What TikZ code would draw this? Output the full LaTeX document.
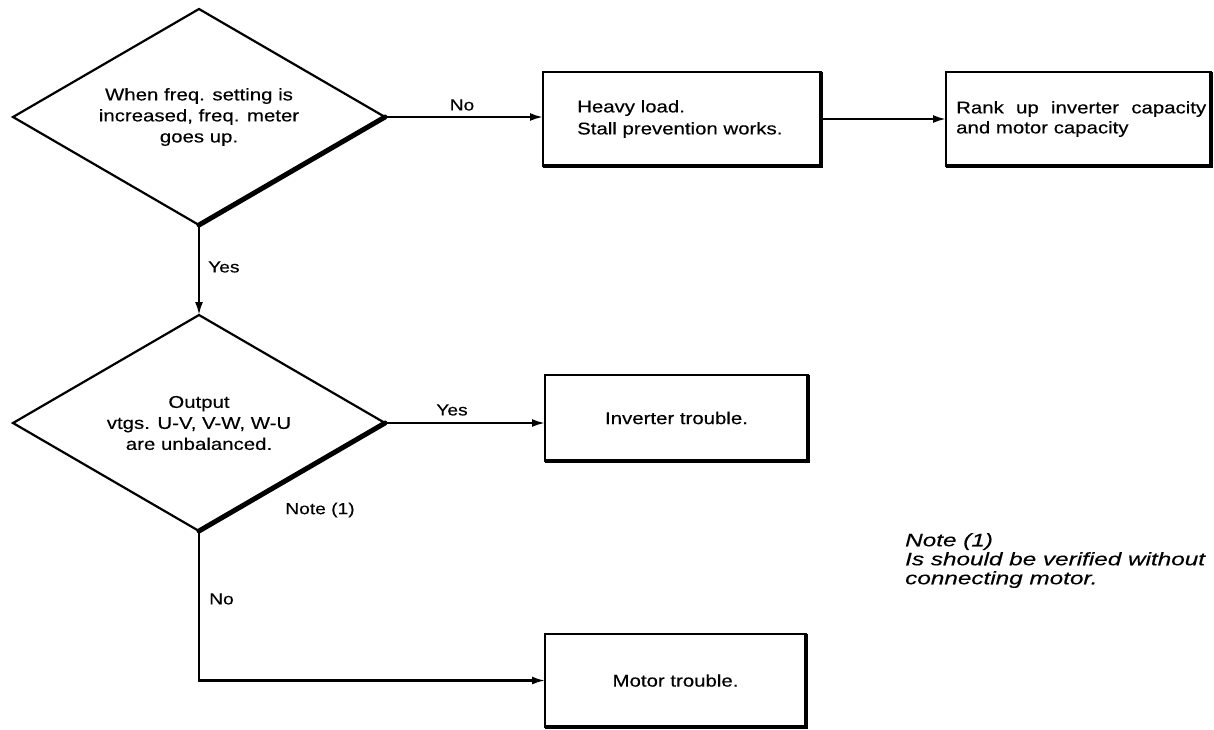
\documentclass[tikz,border=0pt]{standalone}
\usepackage{fontspec}
\setmainfont[FakeStretch=1.2,FakeBold=0.3]{Liberation Sans}
\newfontfamily\notefont[FakeStretch=1.35,FakeBold=0.3]{Liberation Sans}
\usetikzlibrary{shapes.geometric,arrows.meta}
\tikzset{
  decision/.style={diamond, draw, line width=2.2pt, minimum width=372pt, minimum height=216pt,
    inner sep=0pt, outer sep=0pt, aspect=1.72, align=center, font=\fontsize{17}{21}\selectfont},
  heavyedge/.style={line width=5pt, line cap=round},
  proc/.style={rectangle, draw, line width=2.4pt, inner sep=0pt, outer sep=0pt, align=center,
    font=\fontsize{17}{21}\selectfont},
  boxshadow/.style={line width=4.5pt},
  flow/.style={line width=2.2pt, -{Latex[length=13pt,width=8pt]}},
  lbl/.style={font=\fontsize{16}{19}\selectfont, inner sep=0pt},
  btext/.style={font=\fontsize{17}{21}\selectfont, inner sep=0pt, align=left},
}
\begin{document}
\begin{tikzpicture}[x=1pt,y=-1pt]
  \useasboundingbox (0,0) rectangle (1214,729);
  % decisions
  \node[decision] (d1) at (199,117) {When freq. setting is\\increased, freq. meter\\goes up.};
  \node[decision] (d2) at (199,423) {Output\\vtgs. U-V, V-W, W-U\\are unbalanced.};
  \draw[heavyedge] (d1.east) -- (d1.south);
  \draw[heavyedge] (d2.east) -- (d2.south);
  % process boxes
  \node[proc, minimum width=278pt, minimum height=94pt] (heavy) at (682,119) {};
  \node[btext, anchor=west, font=\fontsize{17}{22}\selectfont] (heavytxt) at ([xshift=34pt]heavy.west) {Heavy load.\\Stall prevention works.};
  \node[proc, minimum width=265pt, minimum height=94pt] (rank) at (1078.5,119) {};
  \node[btext, anchor=west, text width=250pt, font=\fontsize{17}{20}\selectfont] (ranktxt) at ([xshift=10pt]rank.west) {Rank\hfill up\hfill inverter\hfill capacity\\and motor capacity};
  \node[proc, minimum width=263pt, minimum height=86pt] (inv) at (676.5,418) {Inverter trouble.};
  \node[proc, minimum width=261pt, minimum height=93pt] (motor) at (675.5,680.5) {Motor trouble.};
  \foreach \b in {heavy,rank,inv,motor}
    \draw[boxshadow] (\b.south west) -- (\b.south east) -- (\b.north east);
  % connectors
  \draw[flow] (d1.east) -- (heavy.west |- d1.east);
  \draw[flow] (heavy.east) -- (rank.west);
  \draw[flow] (d1.south) -- (d2.north);
  \draw[flow] (d2.east) -- (inv.west |- d2.east);
  \draw[flow] (d2.south) |- (motor.west);
  % labels
  \node[lbl] (no1) at (462,105) {No};
  \node[lbl, anchor=west] (yes1) at (208,267) {Yes};
  \node[lbl] (yes2) at (452,410) {Yes};
  \node[lbl] (note1) at (320,510) {Note (1)};
  \node[lbl, anchor=west] (no2) at (209,599) {No};
  % note
  \node[anchor=north west, align=left, inner sep=0pt, font=\notefont\itshape\fontsize{18}{19}\selectfont] (note) at (905,533) {Note (1)\\Is should be verified without\\connecting motor.};
\end{tikzpicture}
\end{document}
